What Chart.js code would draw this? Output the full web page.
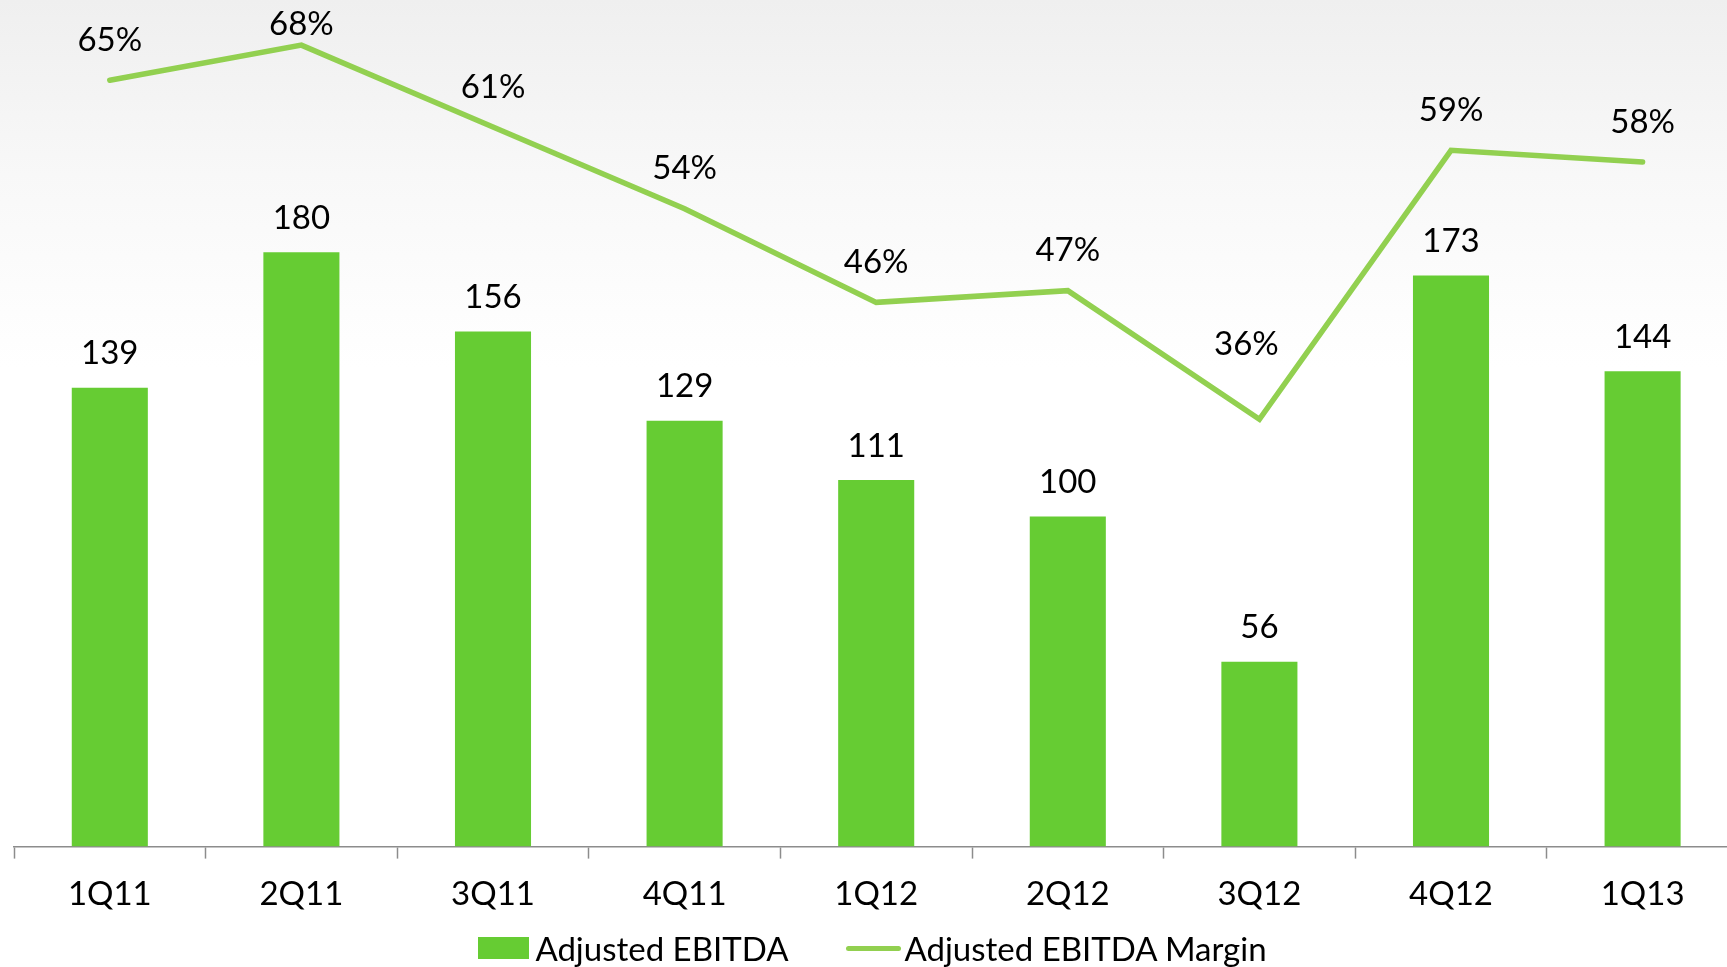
<!DOCTYPE html>
<html>
<head>
<meta charset="utf-8">
<script src="https://cdn.jsdelivr.net/npm/chart.js@4.4.1/dist/chart.umd.min.js"></script>
<style>
    html, body {
        margin: 0;
        padding: 0;
        overflow: hidden;
        background: linear-gradient(#efefef 0%, #f8f8f8 18%, #ffffff 38%);
    }
    #wrap {
        position: relative;
        width: 1745px;
        height: 967px;
    }
    #legend {
        position: absolute;
        left: 0;
        width: 1745px;
        top: 926px;
        height: 44px;
        display: flex;
        justify-content: center;
        align-items: center;
        font-family: Lato, sans-serif;
        font-size: 33px;
        color: #000;
    }
    .legend-item {
        display: flex;
        align-items: center;
        margin: 0 29px;
    }
    .legend-item .swatch {
        flex: none;
    }
</style>
</head>
<body>
<div id="wrap">
    <canvas id="ebitda-chart"></canvas>
    <div id="legend"></div>
</div>
<script>
    const quarters = ["1Q11", "2Q11", "3Q11", "4Q11", "1Q12", "2Q12", "3Q12", "4Q12", "1Q13"];
    const adjustedEbitda = [139, 180, 156, 129, 111, 100, 56, 173, 144];
    const ebitdaMargin = [65, 68, 61, 54, 46, 47, 36, 59, 58];

    const FONT = "Lato";

    // value labels above bars and line points
    const valueLabels = {
        id: "valueLabels",
        afterDatasetsDraw(chart, args, opts) {
            const ctx = chart.ctx;
            ctx.save();
            ctx.font = "33px " + FONT;
            ctx.fillStyle = "#000";
            ctx.textAlign = "center";
            ctx.textBaseline = "middle";
            chart.data.datasets.forEach((ds, di) => {
                const meta = chart.getDatasetMeta(di);
                meta.data.forEach((el, i) => {
                    let x = el.x;
                    let y;
                    let text;
                    if (ds.type === "line") {
                        text = ds.data[i] + "%";
                        y = Math.max(el.y - opts.lineGap, opts.minY);
                        const nudge = opts.nudge[i];
                        if (nudge) {
                            x += nudge[0];
                            y = el.y + nudge[1];
                        }
                    } else {
                        text = String(ds.data[i]);
                        y = el.y - opts.barGap;
                    }
                    ctx.fillText(text, x, y);
                });
            });
            ctx.restore();
        }
    };

    // html legend built from the chart's own legend items
    const htmlLegend = {
        id: "htmlLegend",
        afterUpdate(chart) {
            const box = document.getElementById("legend");
            box.innerHTML = "";
            const items = chart.options.plugins.legend.labels.generateLabels(chart);
            items.forEach((item) => {
                const ds = chart.data.datasets[item.datasetIndex];
                const li = document.createElement("div");
                li.className = "legend-item";
                const sw = document.createElement("span");
                sw.className = "swatch";
                if (ds.type === "line") {
                    sw.style.cssText = "width:55px;height:5px;border-radius:3px;margin-right:3px;background:" + ds.borderColor;
                } else {
                    sw.style.cssText = "width:51px;height:22px;margin-right:6px;background:" + item.fillStyle;
                }
                const tx = document.createElement("span");
                tx.textContent = item.text;
                li.appendChild(sw);
                li.appendChild(tx);
                box.appendChild(li);
            });
        }
    };

    const chartData = {
        labels: quarters,
        datasets: [
            {
                type: "bar",
                label: "Adjusted EBITDA",
                data: adjustedEbitda,
                backgroundColor: "#66cc33",
                borderWidth: 0,
                categoryPercentage: 1,
                barPercentage: 0.397,
                yAxisID: "y"
            },
            {
                type: "line",
                label: "Adjusted EBITDA Margin",
                data: ebitdaMargin,
                borderColor: "#92d050",
                backgroundColor: "#92d050",
                borderWidth: 5.5,
                borderCapStyle: "round",
                borderJoinStyle: "miter",
                pointRadius: 0,
                tension: 0,
                yAxisID: "y1"
            }
        ]
    };

    const chartOptions = {
        responsive: true,
        maintainAspectRatio: false,
        animation: false,
        layout: {
            padding: { left: 14, right: 6.6, top: 0, bottom: 36.8 }
        },
        plugins: {
            tooltip: { enabled: false },
            legend: { display: false },
            valueLabels: {
                barGap: 34,
                lineGap: 40,
                minY: 24,
                nudge: { 6: [-13, -75] }
            }
        },
        scales: {
            x: {
                offset: true,
                grid: {
                    display: true,
                    offset: true,
                    drawOnChartArea: false,
                    drawTicks: true,
                    tickLength: 12,
                    tickWidth: 1.5,
                    tickColor: "#8c8c8c"
                },
                border: { color: "#8c8c8c", width: 1.5 },
                ticks: {
                    color: "#000",
                    padding: 16,
                    font: { family: FONT, size: 33 }
                }
            },
            y: {
                display: false,
                min: 0,
                max: 256.4
            },
            y1: {
                display: false,
                min: -0.55,
                max: 71.86
            }
        }
    };

    new Chart(document.getElementById("ebitda-chart"), {
        data: chartData,
        options: chartOptions,
        plugins: [valueLabels, htmlLegend]
    });
</script>
</body>
</html>
